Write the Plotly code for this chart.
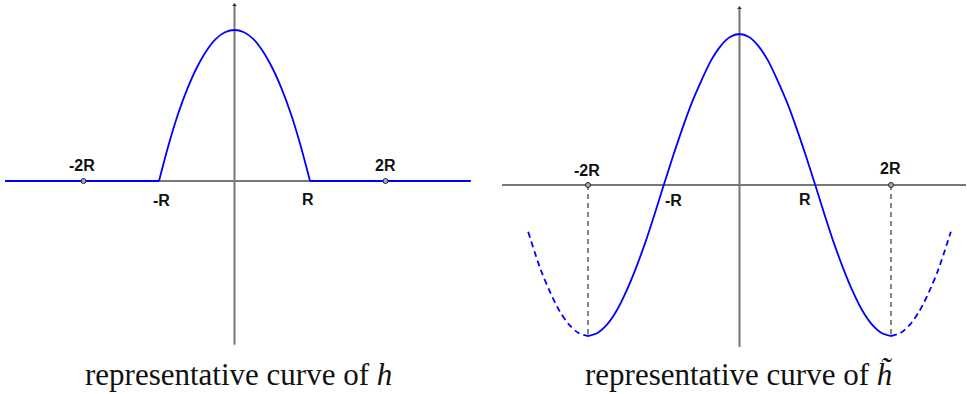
import plotly.graph_objects as go

# values in units of R
h_bump_x = [-1.0, -0.875, -0.75, -0.625, -0.5, -0.375, -0.25, -0.125, 0.0,
            0.125, 0.25, 0.375, 0.5, 0.625, 0.75, 0.875, 1.0]
h_bump_y = [0.0, 0.47, 0.88, 1.22, 1.5, 1.72, 1.88, 1.97, 2.0,
            1.97, 1.88, 1.72, 1.5, 1.22, 0.88, 0.47, 0.0]
h_flat_left_x = [-3.04, -1.0]
h_flat_right_x = [1.0, 3.13]
h_flat_y = [0.0, 0.0]

ht_solid_x = [-2.0, -1.875, -1.75, -1.625, -1.5, -1.375, -1.25, -1.125, -1.0,
              -0.875, -0.75, -0.625, -0.5, -0.375, -0.25, -0.125, 0.0,
              0.125, 0.25, 0.375, 0.5, 0.625, 0.75, 0.875, 1.0,
              1.125, 1.25, 1.375, 1.5, 1.625, 1.75, 1.875, 2.0]
ht_solid_y = [-2.0, -1.96, -1.85, -1.67, -1.42, -1.12, -0.78, -0.4, 0.0,
              0.39, 0.76, 1.1, 1.39, 1.65, 1.84, 1.96, 2.0,
              1.96, 1.84, 1.65, 1.39, 1.1, 0.76, 0.39, 0.0,
              -0.4, -0.78, -1.12, -1.42, -1.67, -1.85, -1.96, -2.0]
ht_dash_left_x = [-2.79, -2.625, -2.5, -2.375, -2.25, -2.125, -2.0]
ht_dash_left_y = [-0.62, -1.12, -1.42, -1.67, -1.85, -1.96, -2.0]
ht_dash_right_x = [2.0, 2.125, 2.25, 2.375, 2.5, 2.625, 2.79]
ht_dash_right_y = [-2.0, -1.96, -1.85, -1.67, -1.42, -1.12, -0.62]

mark_x = [-2, -1, 1, 2]
mark_text = ["-2R", "-R", "R", "2R"]

left_axis_x = [-3.04, 3.13]
left_axis_y = [2.33, -2.17]
right_axis_x = [-3.135, 2.99]
right_axis_y = [2.344, -2.146]

captions = ["representative curve of <i>h</i>",
            "representative curve of <i>h\u0303</i>"]

W, H = 967, 394
BLUE = "#0000ff"
AXIS = "#777777"

fig = go.Figure()


def panel(xa, ya, ax_x, ax_y):
  # horizontal and vertical axes of the sketch
  fig.add_trace(go.Scatter(x=ax_x, y=[0, 0], mode="lines",
                line=dict(color=AXIS, width=2), xaxis=xa, yaxis=ya))
  fig.add_trace(go.Scatter(x=[0, 0], y=ax_y, mode="lines",
                line=dict(color=AXIS, width=2), xaxis=xa, yaxis=ya))
  fig.add_trace(go.Scatter(x=[0], y=[ax_y[0]], mode="markers",
                marker=dict(symbol="triangle-up", size=4, color="#333333"),
                xaxis=xa, yaxis=ya))


# left panel
panel("x", "y", left_axis_x, left_axis_y)
for fx in (h_flat_left_x, h_flat_right_x):
  fig.add_trace(go.Scatter(x=fx, y=h_flat_y, mode="lines",
                line=dict(color=BLUE, width=1.8), xaxis="x", yaxis="y"))
fig.add_trace(go.Scatter(x=h_bump_x, y=h_bump_y, mode="lines",
              line=dict(color=BLUE, width=1.8, shape="spline", smoothing=0.8),
              xaxis="x", yaxis="y"))
fig.add_trace(go.Scatter(x=[mark_x[0], mark_x[3]], y=[0, 0], mode="markers",
              marker=dict(size=5, color="#aab", line=dict(color="#223", width=1)),
              xaxis="x", yaxis="y"))

# right panel
panel("x2", "y2", right_axis_x, right_axis_y)
for vx in (mark_x[0], mark_x[3]):
  fig.add_trace(go.Scatter(x=[vx, vx], y=[0, ht_solid_y[0]], mode="lines",
                line=dict(color="#444444", width=1.3, dash="5px,4px"),
                xaxis="x2", yaxis="y2"))
fig.add_trace(go.Scatter(x=ht_solid_x, y=ht_solid_y, mode="lines",
              line=dict(color=BLUE, width=1.8, shape="spline", smoothing=0.8),
              xaxis="x2", yaxis="y2"))
for dx, dy in ((ht_dash_left_x, ht_dash_left_y), (ht_dash_right_x, ht_dash_right_y)):
  fig.add_trace(go.Scatter(x=dx, y=dy, mode="lines",
                line=dict(color=BLUE, width=1.8, shape="spline", smoothing=0.8,
                          dash="6px,4px"),
                xaxis="x2", yaxis="y2"))
fig.add_trace(go.Scatter(x=[mark_x[0], mark_x[3]], y=[0, 0], mode="markers",
              marker=dict(size=5, color="#aab", line=dict(color="#223", width=1)),
              xaxis="x2", yaxis="y2"))

# labels on the axes (shift in pixels)
left_shift = [(-1.5, 16), (2, -19), (-2, -18), (0, 16)]
right_shift = [(-1.5, 15), (10, -15), (-10, -14), (-1, 17)]
annotations = []
for ref, shifts in (("", left_shift), ("2", right_shift)):
  for mx, txt, (sx, sy) in zip(mark_x, mark_text, shifts):
    annotations.append(dict(x=mx, y=0, xref="x" + ref, yref="y" + ref,
                            text="<b>%s</b>" % txt, showarrow=False,
                            xshift=sx, yshift=sy,
                            font=dict(family="Liberation Sans", size=16,
                                      color="#111111")))
for cx, cap in zip([238.5 / W, 738.5 / W], captions):
  annotations.append(dict(x=cx, y=1 - 374 / H, xref="paper", yref="paper",
                          xanchor="center", yanchor="middle",
                          text=cap, showarrow=False,
                          font=dict(family="Liberation Serif", size=31,
                                    color="#111111")))

# pixel mapping of each panel: origin and pixels per R
lx0, ly0, ls = 234.5, 181, 75.5
rx0, ry0, rsx, rsy = 739.5, 185, 75.75, 75.5
half = W / 2
fig.update_layout(
    width=W, height=H,
    margin=dict(l=0, r=0, t=0, b=0),
    paper_bgcolor="white", plot_bgcolor="white",
    showlegend=False,
    xaxis=dict(domain=[0, 0.5], range=[-lx0 / ls, (half - lx0) / ls], visible=False),
    yaxis=dict(domain=[0, 1], range=[(ly0 - H) / ls, ly0 / ls], visible=False),
    xaxis2=dict(domain=[0.5, 1], range=[(half - rx0) / rsx, (W - rx0) / rsx],
                visible=False),
    yaxis2=dict(domain=[0, 1], range=[(ry0 - H) / rsy, ry0 / rsy], visible=False,
                anchor="x2"),
    annotations=annotations,
)

fig.write_html("out.html", config={"displayModeBar": False},
               post_script="document.body.style.margin='0px';")
